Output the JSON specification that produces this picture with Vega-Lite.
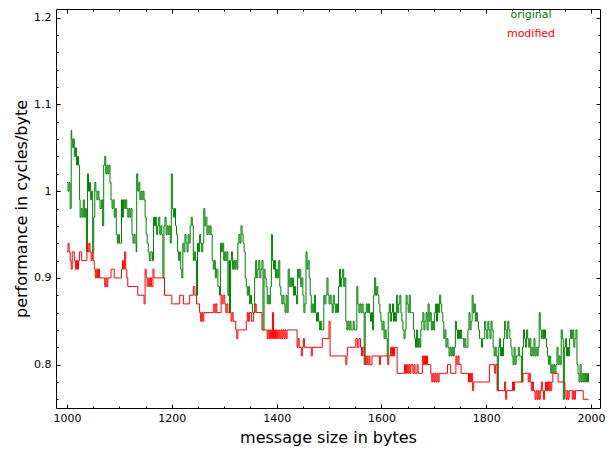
{
"$schema": "https://vega.github.io/schema/vega-lite/v6.json",
"width": 544, "height": 399,
"autosize": {"type": "none"},
"padding": {"left": 56, "top": 9, "right": 9, "bottom": 41},
"background": "white",
"config": {
 "view": {"stroke": "black", "strokeWidth": 1},
 "axis": {"domain": false, "grid": false, "labelFont": "DejaVu Sans", "titleFont": "DejaVu Sans", "labelColor": "black", "titleColor": "black", "tickColor": "black", "labelFontSize": 11, "titleFontSize": 16, "titleFontWeight": "normal"}
},
"datasets": {
"original": [
{"b":1000,"v":1.01},{"b":1002,"v":1.00},{"b":1004,"v":1.01},{"b":1006,"v":0.98},{"b":1008,"v":1.07},{"b":1009,"v":1.06},{"b":1011,"v":1.05},{"b":1012,"v":1.06},{"b":1014,"v":1.04},{"b":1016,"v":1.05},{"b":1018,"v":1.03},{"b":1020,"v":1.04},{"b":1022,"v":1.03},{"b":1024,"v":0.99},{"b":1025,"v":0.97},{"b":1027,"v":0.98},{"b":1029,"v":0.97},{"b":1031,"v":0.99},{"b":1033,"v":0.97},{"b":1035,"v":0.98},{"b":1037,"v":0.93},{"b":1039,"v":1.02},{"b":1041,"v":1.00},{"b":1043,"v":1.01},{"b":1045,"v":0.99},{"b":1047,"v":1.00},{"b":1049,"v":0.93},{"b":1051,"v":0.97},{"b":1053,"v":1.01},{"b":1055,"v":1.00},{"b":1057,"v":0.99},{"b":1059,"v":1.00},{"b":1061,"v":0.99},{"b":1063,"v":0.98},{"b":1066,"v":0.99},{"b":1068,"v":0.96},{"b":1070,"v":1.03},{"b":1072,"v":1.04},{"b":1074,"v":1.02},{"b":1076,"v":1.03},{"b":1078,"v":1.02},{"b":1080,"v":1.03},{"b":1082,"v":1.01},{"b":1084,"v":0.99},{"b":1086,"v":0.98},{"b":1088,"v":0.99},{"b":1090,"v":0.97},{"b":1092,"v":0.98},{"b":1094,"v":0.95},{"b":1096,"v":0.94},{"b":1098,"v":0.95},{"b":1100,"v":0.94},{"b":1102,"v":0.94},{"b":1104,"v":0.99},{"b":1106,"v":0.97},{"b":1108,"v":0.99},{"b":1110,"v":0.98},{"b":1112,"v":0.99},{"b":1114,"v":0.98},{"b":1116,"v":0.97},{"b":1118,"v":0.98},{"b":1120,"v":0.97},{"b":1122,"v":0.98},{"b":1124,"v":0.95},{"b":1126,"v":0.94},{"b":1128,"v":0.95},{"b":1130,"v":0.94},{"b":1132,"v":0.93},{"b":1133,"v":1.02},{"b":1135,"v":1.00},{"b":1137,"v":1.01},{"b":1139,"v":0.99},{"b":1141,"v":1.00},{"b":1143,"v":0.99},{"b":1145,"v":1.00},{"b":1147,"v":0.99},{"b":1149,"v":0.97},{"b":1151,"v":0.95},{"b":1153,"v":0.94},{"b":1155,"v":0.93},{"b":1157,"v":0.92},{"b":1160,"v":0.93},{"b":1163,"v":0.92},{"b":1165,"v":0.97},{"b":1167,"v":0.96},{"b":1169,"v":0.97},{"b":1171,"v":0.95},{"b":1173,"v":0.96},{"b":1175,"v":0.97},{"b":1177,"v":0.95},{"b":1179,"v":0.96},{"b":1181,"v":0.95},{"b":1183,"v":0.90},{"b":1185,"v":0.96},{"b":1187,"v":0.97},{"b":1189,"v":0.95},{"b":1191,"v":0.96},{"b":1193,"v":0.95},{"b":1195,"v":0.96},{"b":1197,"v":0.94},{"b":1199,"v":1.02},{"b":1201,"v":0.98},{"b":1203,"v":0.97},{"b":1205,"v":0.98},{"b":1207,"v":0.96},{"b":1209,"v":0.95},{"b":1211,"v":0.93},{"b":1213,"v":0.92},{"b":1215,"v":0.93},{"b":1217,"v":0.91},{"b":1219,"v":0.90},{"b":1221,"v":0.94},{"b":1223,"v":0.93},{"b":1225,"v":0.95},{"b":1227,"v":0.94},{"b":1229,"v":0.93},{"b":1231,"v":0.95},{"b":1233,"v":0.94},{"b":1235,"v":0.96},{"b":1237,"v":0.97},{"b":1239,"v":0.96},{"b":1241,"v":0.92},{"b":1243,"v":0.93},{"b":1245,"v":0.92},{"b":1247,"v":0.88},{"b":1249,"v":0.94},{"b":1251,"v":0.93},{"b":1253,"v":0.95},{"b":1255,"v":0.94},{"b":1257,"v":0.93},{"b":1259,"v":0.94},{"b":1261,"v":0.98},{"b":1263,"v":0.96},{"b":1265,"v":0.97},{"b":1267,"v":0.95},{"b":1269,"v":0.96},{"b":1271,"v":0.95},{"b":1273,"v":0.96},{"b":1275,"v":0.95},{"b":1277,"v":0.92},{"b":1279,"v":0.91},{"b":1281,"v":0.92},{"b":1283,"v":0.90},{"b":1285,"v":0.91},{"b":1288,"v":0.89},{"b":1291,"v":0.88},{"b":1293,"v":0.94},{"b":1295,"v":0.93},{"b":1297,"v":0.94},{"b":1299,"v":0.92},{"b":1301,"v":0.93},{"b":1303,"v":0.92},{"b":1305,"v":0.93},{"b":1307,"v":0.88},{"b":1309,"v":0.92},{"b":1310,"v":0.86},{"b":1312,"v":0.92},{"b":1314,"v":0.93},{"b":1316,"v":0.91},{"b":1318,"v":0.92},{"b":1320,"v":0.91},{"b":1322,"v":0.92},{"b":1324,"v":0.91},{"b":1326,"v":0.94},{"b":1328,"v":0.95},{"b":1330,"v":0.94},{"b":1332,"v":0.96},{"b":1334,"v":0.95},{"b":1336,"v":0.94},{"b":1338,"v":0.93},{"b":1340,"v":0.90},{"b":1342,"v":0.89},{"b":1344,"v":0.88},{"b":1346,"v":0.89},{"b":1348,"v":0.87},{"b":1350,"v":0.88},{"b":1352,"v":0.87},{"b":1354,"v":0.86},{"b":1356,"v":0.86},{"b":1358,"v":0.90},{"b":1360,"v":0.92},{"b":1362,"v":0.90},{"b":1364,"v":0.91},{"b":1366,"v":0.92},{"b":1368,"v":0.90},{"b":1370,"v":0.91},{"b":1372,"v":0.92},{"b":1374,"v":0.84},{"b":1376,"v":0.91},{"b":1378,"v":0.90},{"b":1380,"v":0.89},{"b":1382,"v":0.87},{"b":1384,"v":0.88},{"b":1386,"v":0.87},{"b":1388,"v":0.89},{"b":1390,"v":0.95},{"b":1392,"v":0.92},{"b":1394,"v":0.91},{"b":1396,"v":0.92},{"b":1398,"v":0.90},{"b":1400,"v":0.91},{"b":1402,"v":0.90},{"b":1404,"v":0.92},{"b":1406,"v":0.89},{"b":1408,"v":0.88},{"b":1410,"v":0.87},{"b":1412,"v":0.88},{"b":1414,"v":0.87},{"b":1416,"v":0.86},{"b":1418,"v":0.88},{"b":1420,"v":0.86},{"b":1422,"v":0.91},{"b":1424,"v":0.89},{"b":1426,"v":0.90},{"b":1428,"v":0.89},{"b":1430,"v":0.90},{"b":1432,"v":0.88},{"b":1434,"v":0.89},{"b":1436,"v":0.88},{"b":1438,"v":0.87},{"b":1440,"v":0.91},{"b":1442,"v":0.90},{"b":1444,"v":0.91},{"b":1446,"v":0.89},{"b":1448,"v":0.90},{"b":1450,"v":0.88},{"b":1452,"v":0.86},{"b":1454,"v":0.87},{"b":1456,"v":0.93},{"b":1458,"v":0.91},{"b":1460,"v":0.92},{"b":1462,"v":0.90},{"b":1464,"v":0.88},{"b":1466,"v":0.86},{"b":1468,"v":0.87},{"b":1470,"v":0.86},{"b":1472,"v":0.88},{"b":1474,"v":0.86},{"b":1476,"v":0.85},{"b":1478,"v":0.86},{"b":1480,"v":0.85},{"b":1482,"v":0.84},{"b":1484,"v":0.85},{"b":1486,"v":0.84},{"b":1488,"v":0.84},{"b":1490,"v":0.88},{"b":1492,"v":0.87},{"b":1494,"v":0.88},{"b":1496,"v":0.90},{"b":1498,"v":0.88},{"b":1500,"v":0.87},{"b":1502,"v":0.88},{"b":1504,"v":0.87},{"b":1506,"v":0.86},{"b":1508,"v":0.88},{"b":1510,"v":0.87},{"b":1512,"v":0.86},{"b":1514,"v":0.87},{"b":1516,"v":0.86},{"b":1518,"v":0.89},{"b":1520,"v":0.91},{"b":1522,"v":0.89},{"b":1524,"v":0.90},{"b":1526,"v":0.91},{"b":1528,"v":0.89},{"b":1530,"v":0.90},{"b":1532,"v":0.85},{"b":1534,"v":0.84},{"b":1536,"v":0.85},{"b":1538,"v":0.84},{"b":1540,"v":0.85},{"b":1542,"v":0.84},{"b":1544,"v":0.84},{"b":1546,"v":0.85},{"b":1548,"v":0.84},{"b":1550,"v":0.84},{"b":1553,"v":0.89},{"b":1555,"v":0.87},{"b":1557,"v":0.86},{"b":1559,"v":0.87},{"b":1561,"v":0.86},{"b":1563,"v":0.87},{"b":1565,"v":0.86},{"b":1567,"v":0.80},{"b":1569,"v":0.86},{"b":1571,"v":0.87},{"b":1573,"v":0.86},{"b":1575,"v":0.87},{"b":1577,"v":0.86},{"b":1579,"v":0.85},{"b":1581,"v":0.86},{"b":1583,"v":0.84},{"b":1585,"v":0.88},{"b":1587,"v":0.90},{"b":1589,"v":0.88},{"b":1591,"v":0.89},{"b":1593,"v":0.88},{"b":1595,"v":0.87},{"b":1597,"v":0.86},{"b":1599,"v":0.85},{"b":1601,"v":0.84},{"b":1603,"v":0.85},{"b":1605,"v":0.83},{"b":1607,"v":0.84},{"b":1609,"v":0.83},{"b":1611,"v":0.81},{"b":1613,"v":0.86},{"b":1615,"v":0.87},{"b":1617,"v":0.85},{"b":1619,"v":0.86},{"b":1621,"v":0.87},{"b":1623,"v":0.85},{"b":1625,"v":0.86},{"b":1627,"v":0.85},{"b":1629,"v":0.88},{"b":1631,"v":0.86},{"b":1633,"v":0.87},{"b":1635,"v":0.88},{"b":1637,"v":0.86},{"b":1639,"v":0.85},{"b":1641,"v":0.84},{"b":1643,"v":0.83},{"b":1645,"v":0.84},{"b":1647,"v":0.88},{"b":1649,"v":0.87},{"b":1651,"v":0.86},{"b":1653,"v":0.88},{"b":1655,"v":0.86},{"b":1657,"v":0.86},{"b":1659,"v":0.86},{"b":1661,"v":0.84},{"b":1663,"v":0.83},{"b":1665,"v":0.82},{"b":1667,"v":0.84},{"b":1669,"v":0.82},{"b":1671,"v":0.83},{"b":1673,"v":0.82},{"b":1675,"v":0.84},{"b":1677,"v":0.85},{"b":1679,"v":0.86},{"b":1681,"v":0.84},{"b":1683,"v":0.85},{"b":1685,"v":0.86},{"b":1687,"v":0.84},{"b":1689,"v":0.87},{"b":1691,"v":0.85},{"b":1693,"v":0.86},{"b":1695,"v":0.84},{"b":1697,"v":0.85},{"b":1699,"v":0.84},{"b":1701,"v":0.86},{"b":1703,"v":0.87},{"b":1705,"v":0.85},{"b":1707,"v":0.87},{"b":1709,"v":0.86},{"b":1711,"v":0.88},{"b":1713,"v":0.87},{"b":1715,"v":0.86},{"b":1717,"v":0.85},{"b":1719,"v":0.83},{"b":1721,"v":0.84},{"b":1723,"v":0.82},{"b":1725,"v":0.83},{"b":1727,"v":0.82},{"b":1729,"v":0.81},{"b":1731,"v":0.82},{"b":1733,"v":0.81},{"b":1735,"v":0.82},{"b":1737,"v":0.81},{"b":1739,"v":0.82},{"b":1741,"v":0.85},{"b":1743,"v":0.84},{"b":1745,"v":0.83},{"b":1747,"v":0.84},{"b":1749,"v":0.83},{"b":1751,"v":0.84},{"b":1753,"v":0.83},{"b":1755,"v":0.83},{"b":1757,"v":0.82},{"b":1759,"v":0.83},{"b":1761,"v":0.82},{"b":1763,"v":0.82},{"b":1765,"v":0.84},{"b":1767,"v":0.86},{"b":1769,"v":0.84},{"b":1771,"v":0.85},{"b":1773,"v":0.88},{"b":1775,"v":0.86},{"b":1777,"v":0.87},{"b":1779,"v":0.85},{"b":1781,"v":0.86},{"b":1783,"v":0.85},{"b":1785,"v":0.84},{"b":1787,"v":0.83},{"b":1789,"v":0.83},{"b":1791,"v":0.82},{"b":1793,"v":0.83},{"b":1795,"v":0.83},{"b":1797,"v":0.85},{"b":1799,"v":0.84},{"b":1801,"v":0.83},{"b":1803,"v":0.85},{"b":1805,"v":0.84},{"b":1807,"v":0.83},{"b":1809,"v":0.85},{"b":1811,"v":0.84},{"b":1813,"v":0.82},{"b":1815,"v":0.81},{"b":1817,"v":0.82},{"b":1819,"v":0.81},{"b":1821,"v":0.77},{"b":1823,"v":0.82},{"b":1825,"v":0.83},{"b":1827,"v":0.81},{"b":1829,"v":0.82},{"b":1831,"v":0.81},{"b":1833,"v":0.83},{"b":1835,"v":0.85},{"b":1837,"v":0.84},{"b":1839,"v":0.83},{"b":1841,"v":0.85},{"b":1843,"v":0.84},{"b":1845,"v":0.83},{"b":1847,"v":0.82},{"b":1849,"v":0.81},{"b":1851,"v":0.80},{"b":1853,"v":0.82},{"b":1855,"v":0.80},{"b":1857,"v":0.81},{"b":1859,"v":0.81},{"b":1861,"v":0.82},{"b":1863,"v":0.81},{"b":1865,"v":0.81},{"b":1867,"v":0.78},{"b":1869,"v":0.82},{"b":1871,"v":0.84},{"b":1873,"v":0.83},{"b":1875,"v":0.82},{"b":1877,"v":0.84},{"b":1879,"v":0.83},{"b":1881,"v":0.82},{"b":1883,"v":0.83},{"b":1885,"v":0.81},{"b":1887,"v":0.82},{"b":1889,"v":0.81},{"b":1891,"v":0.83},{"b":1893,"v":0.81},{"b":1895,"v":0.82},{"b":1897,"v":0.81},{"b":1899,"v":0.82},{"b":1901,"v":0.86},{"b":1903,"v":0.84},{"b":1905,"v":0.83},{"b":1907,"v":0.84},{"b":1909,"v":0.83},{"b":1911,"v":0.84},{"b":1913,"v":0.83},{"b":1915,"v":0.82},{"b":1917,"v":0.81},{"b":1919,"v":0.80},{"b":1921,"v":0.81},{"b":1923,"v":0.79},{"b":1925,"v":0.80},{"b":1927,"v":0.79},{"b":1929,"v":0.80},{"b":1931,"v":0.79},{"b":1933,"v":0.80},{"b":1935,"v":0.82},{"b":1937,"v":0.80},{"b":1939,"v":0.81},{"b":1941,"v":0.80},{"b":1943,"v":0.84},{"b":1945,"v":0.83},{"b":1947,"v":0.76},{"b":1949,"v":0.82},{"b":1951,"v":0.83},{"b":1953,"v":0.81},{"b":1955,"v":0.82},{"b":1957,"v":0.81},{"b":1959,"v":0.83},{"b":1961,"v":0.84},{"b":1963,"v":0.83},{"b":1965,"v":0.84},{"b":1967,"v":0.82},{"b":1969,"v":0.83},{"b":1971,"v":0.84},{"b":1973,"v":0.80},{"b":1975,"v":0.79},{"b":1977,"v":0.78},{"b":1979,"v":0.80},{"b":1981,"v":0.78},{"b":1983,"v":0.79},{"b":1985,"v":0.78},{"b":1987,"v":0.79},{"b":1989,"v":0.78},{"b":1991,"v":0.79},{"b":1993,"v":0.78},{"b":1995,"v":0.79}
],
"modified": [
{"b":1000,"v":0.93},{"b":1002,"v":0.94},{"b":1004,"v":0.93},{"b":1006,"v":0.92},{"b":1008,"v":0.91},{"b":1010,"v":0.93},{"b":1014,"v":0.92},{"b":1016,"v":0.91},{"b":1018,"v":0.92},{"b":1020,"v":0.91},{"b":1022,"v":0.92},{"b":1024,"v":0.93},{"b":1028,"v":0.92},{"b":1038,"v":0.94},{"b":1040,"v":0.93},{"b":1042,"v":0.94},{"b":1044,"v":0.93},{"b":1046,"v":0.92},{"b":1048,"v":0.93},{"b":1050,"v":0.92},{"b":1052,"v":0.91},{"b":1054,"v":0.90},{"b":1056,"v":0.91},{"b":1058,"v":0.90},{"b":1060,"v":0.91},{"b":1062,"v":0.90},{"b":1072,"v":0.89},{"b":1074,"v":0.90},{"b":1076,"v":0.89},{"b":1078,"v":0.90},{"b":1084,"v":0.91},{"b":1090,"v":0.90},{"b":1104,"v":0.91},{"b":1106,"v":0.92},{"b":1108,"v":0.91},{"b":1110,"v":0.93},{"b":1112,"v":0.91},{"b":1114,"v":0.90},{"b":1116,"v":0.89},{"b":1135,"v":0.88},{"b":1147,"v":0.87},{"b":1149,"v":0.91},{"b":1151,"v":0.90},{"b":1153,"v":0.89},{"b":1155,"v":0.90},{"b":1157,"v":0.89},{"b":1159,"v":0.90},{"b":1161,"v":0.89},{"b":1164,"v":0.91},{"b":1166,"v":0.90},{"b":1186,"v":0.88},{"b":1200,"v":0.87},{"b":1215,"v":0.88},{"b":1222,"v":0.87},{"b":1234,"v":0.88},{"b":1241,"v":0.89},{"b":1244,"v":0.88},{"b":1247,"v":0.87},{"b":1253,"v":0.86},{"b":1255,"v":0.85},{"b":1257,"v":0.86},{"b":1259,"v":0.85},{"b":1261,"v":0.86},{"b":1280,"v":0.87},{"b":1282,"v":0.86},{"b":1284,"v":0.87},{"b":1286,"v":0.86},{"b":1294,"v":0.88},{"b":1296,"v":0.87},{"b":1298,"v":0.88},{"b":1301,"v":0.87},{"b":1303,"v":0.86},{"b":1305,"v":0.87},{"b":1307,"v":0.86},{"b":1313,"v":0.85},{"b":1315,"v":0.86},{"b":1317,"v":0.85},{"b":1322,"v":0.84},{"b":1324,"v":0.83},{"b":1326,"v":0.84},{"b":1342,"v":0.85},{"b":1344,"v":0.86},{"b":1346,"v":0.85},{"b":1348,"v":0.86},{"b":1352,"v":0.85},{"b":1356,"v":0.86},{"b":1359,"v":0.87},{"b":1361,"v":0.86},{"b":1372,"v":0.84},{"b":1382,"v":0.83},{"b":1384,"v":0.84},{"b":1386,"v":0.83},{"b":1388,"v":0.84},{"b":1390,"v":0.83},{"b":1392,"v":0.86},{"b":1394,"v":0.83},{"b":1396,"v":0.84},{"b":1398,"v":0.83},{"b":1400,"v":0.84},{"b":1402,"v":0.83},{"b":1404,"v":0.84},{"b":1406,"v":0.83},{"b":1408,"v":0.84},{"b":1410,"v":0.83},{"b":1412,"v":0.84},{"b":1414,"v":0.83},{"b":1416,"v":0.84},{"b":1418,"v":0.83},{"b":1420,"v":0.84},{"b":1439,"v":0.82},{"b":1441,"v":0.83},{"b":1443,"v":0.82},{"b":1447,"v":0.81},{"b":1449,"v":0.82},{"b":1451,"v":0.83},{"b":1453,"v":0.82},{"b":1466,"v":0.81},{"b":1468,"v":0.82},{"b":1487,"v":0.83},{"b":1500,"v":0.85},{"b":1502,"v":0.81},{"b":1532,"v":0.80},{"b":1534,"v":0.81},{"b":1535,"v":0.82},{"b":1551,"v":0.83},{"b":1554,"v":0.82},{"b":1557,"v":0.83},{"b":1560,"v":0.82},{"b":1562,"v":0.81},{"b":1564,"v":0.82},{"b":1567,"v":0.81},{"b":1569,"v":0.80},{"b":1571,"v":0.81},{"b":1573,"v":0.80},{"b":1576,"v":0.81},{"b":1578,"v":0.80},{"b":1582,"v":0.81},{"b":1596,"v":0.80},{"b":1598,"v":0.81},{"b":1612,"v":0.80},{"b":1614,"v":0.81},{"b":1617,"v":0.82},{"b":1619,"v":0.81},{"b":1621,"v":0.82},{"b":1623,"v":0.81},{"b":1625,"v":0.82},{"b":1630,"v":0.79},{"b":1644,"v":0.80},{"b":1646,"v":0.79},{"b":1648,"v":0.80},{"b":1650,"v":0.79},{"b":1652,"v":0.80},{"b":1654,"v":0.79},{"b":1656,"v":0.80},{"b":1660,"v":0.79},{"b":1662,"v":0.80},{"b":1664,"v":0.79},{"b":1668,"v":0.80},{"b":1670,"v":0.79},{"b":1678,"v":0.81},{"b":1680,"v":0.80},{"b":1682,"v":0.81},{"b":1684,"v":0.80},{"b":1686,"v":0.81},{"b":1688,"v":0.80},{"b":1694,"v":0.79},{"b":1696,"v":0.78},{"b":1698,"v":0.79},{"b":1700,"v":0.78},{"b":1702,"v":0.79},{"b":1704,"v":0.78},{"b":1706,"v":0.79},{"b":1708,"v":0.78},{"b":1710,"v":0.79},{"b":1726,"v":0.80},{"b":1732,"v":0.79},{"b":1742,"v":0.81},{"b":1744,"v":0.80},{"b":1746,"v":0.81},{"b":1748,"v":0.80},{"b":1752,"v":0.79},{"b":1766,"v":0.78},{"b":1768,"v":0.79},{"b":1770,"v":0.78},{"b":1772,"v":0.79},{"b":1774,"v":0.77},{"b":1776,"v":0.78},{"b":1806,"v":0.80},{"b":1816,"v":0.79},{"b":1818,"v":0.80},{"b":1821,"v":0.77},{"b":1835,"v":0.78},{"b":1837,"v":0.76},{"b":1839,"v":0.77},{"b":1850,"v":0.78},{"b":1852,"v":0.77},{"b":1854,"v":0.78},{"b":1870,"v":0.79},{"b":1880,"v":0.78},{"b":1882,"v":0.79},{"b":1884,"v":0.78},{"b":1886,"v":0.77},{"b":1888,"v":0.78},{"b":1890,"v":0.77},{"b":1893,"v":0.76},{"b":1895,"v":0.77},{"b":1897,"v":0.76},{"b":1899,"v":0.77},{"b":1901,"v":0.76},{"b":1903,"v":0.77},{"b":1905,"v":0.78},{"b":1907,"v":0.77},{"b":1909,"v":0.76},{"b":1911,"v":0.77},{"b":1913,"v":0.78},{"b":1915,"v":0.77},{"b":1917,"v":0.78},{"b":1919,"v":0.77},{"b":1921,"v":0.78},{"b":1923,"v":0.77},{"b":1925,"v":0.78},{"b":1927,"v":0.79},{"b":1937,"v":0.78},{"b":1950,"v":0.77},{"b":1952,"v":0.76},{"b":1954,"v":0.77},{"b":1956,"v":0.76},{"b":1958,"v":0.77},{"b":1964,"v":0.76},{"b":1966,"v":0.77},{"b":1968,"v":0.76},{"b":1970,"v":0.77},{"b":1985,"v":0.76},{"b":1995,"v":0.76}
]
},
"layer": [
 {
  "data": {"name": "original"},
  "mark": {"type": "line", "interpolate": "step-after", "strokeWidth": 1},
  "encoding": {
   "x": {"field": "b", "type": "quantitative", "scale": {"domain": [979, 2017], "nice": false, "zero": false},
         "axis": {"orient": "bottom", "values": [1000, 1200, 1400, 1600, 1800, 2000], "format": "d", "tickSize": -4, "labelPadding": 8, "title": "message size in bytes", "titlePadding": 6}},
   "y": {"field": "v", "type": "quantitative", "scale": {"domain": [0.75, 1.21], "nice": false, "zero": false},
         "axis": {"orient": "left", "values": [0.8, 0.9, 1.0, 1.1, 1.2], "format": "~g", "tickSize": -4, "labelPadding": 9, "title": "performance in cycles/byte", "titlePadding": 4}},
   "color": {"datum": "original", "type": "nominal", "scale": {"domain": ["original", "modified"], "range": ["#008000", "#ff0000"]},
             "legend": {"orient": "none", "legendX": 464, "legendY": 0, "title": null, "symbolSize": 0, "symbolStrokeWidth": 0, "symbolOpacity": 0, "labelFont": "DejaVu Sans", "labelFontSize": 11, "labelAlign": "center", "labelOffset": 0, "rowPadding": 7,
                        "encode": {"labels": {"update": {"fill": {"scale": "color", "field": "value"}}}}}}
  }
 },
 {
  "data": {"name": "modified"},
  "mark": {"type": "line", "interpolate": "step-after", "strokeWidth": 1},
  "encoding": {
   "x": {"field": "b", "type": "quantitative", "axis": {"orient": "top", "values": [1000, 1200, 1400, 1600, 1800, 2000], "tickSize": -4, "labels": false, "title": null}},
   "y": {"field": "v", "type": "quantitative", "axis": {"orient": "right", "values": [0.8, 0.9, 1.0, 1.1, 1.2], "tickSize": -4, "labels": false, "title": null}},
   "color": {"datum": "modified", "type": "nominal"}
  }
 },
 {
  "data": {"name": "original"},
  "mark": {"type": "line", "opacity": 0},
  "encoding": {
   "x": {"field": "b", "type": "quantitative", "axis": {"orient": "bottom", "values": [1000,1050,1100,1150,1200,1250,1300,1350,1400,1450,1500,1550,1600,1650,1700,1750,1800,1850,1900,1950,2000], "tickSize": -2, "labels": false, "title": null}},
   "y": {"field": "v", "type": "quantitative", "axis": {"orient": "left", "values": [0.76,0.78,0.8,0.82,0.84,0.86,0.88,0.9,0.92,0.94,0.96,0.98,1,1.02,1.04,1.06,1.08,1.1,1.12,1.14,1.16,1.18,1.2], "tickSize": -2, "labels": false, "title": null}}
  }
 },
 {
  "data": {"name": "modified"},
  "mark": {"type": "line", "opacity": 0},
  "encoding": {
   "x": {"field": "b", "type": "quantitative", "axis": {"orient": "top", "values": [1000,1050,1100,1150,1200,1250,1300,1350,1400,1450,1500,1550,1600,1650,1700,1750,1800,1850,1900,1950,2000], "tickSize": -2, "labels": false, "title": null}},
   "y": {"field": "v", "type": "quantitative", "axis": {"orient": "right", "values": [0.76,0.78,0.8,0.82,0.84,0.86,0.88,0.9,0.92,0.94,0.96,0.98,1,1.02,1.04,1.06,1.08,1.1,1.12,1.14,1.16,1.18,1.2], "tickSize": -2, "labels": false, "title": null}}
  }
 }
],
"resolve": {"axis": {"x": "independent", "y": "independent"}}
}
